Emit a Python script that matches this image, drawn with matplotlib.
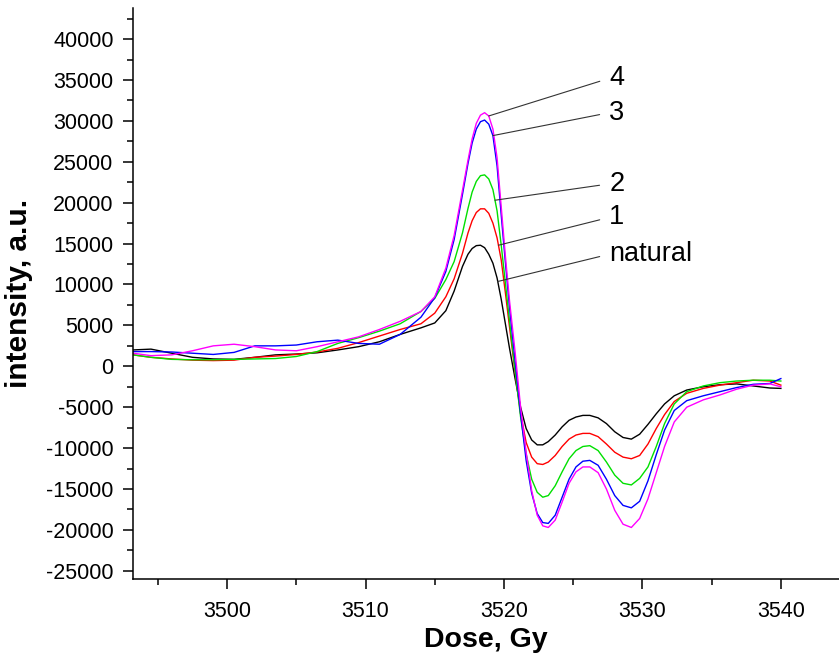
"""
ESR spectra of the natural sample and four irradiated doses
"""
import matplotlib
matplotlib.use('Agg')
import matplotlib.pyplot as plt
from matplotlib.ticker import MultipleLocator
import numpy as np

plt.rcParams['font.family'] = ['Liberation Sans', 'DejaVu Sans']
plt.rcParams['axes.unicode_minus'] = False

# shared field axis
dose = [3493.2, 3494.5, 3496.0, 3497.5, 3499.0, 3500.5, 3502.0, 3503.5, 3505.0, 3506.5,
        3508.0, 3509.5, 3511.0, 3512.5, 3514.0, 3515.0, 3515.8, 3516.4, 3517.0, 3517.4,
        3517.7, 3518.0, 3518.3, 3518.6, 3518.9, 3519.2, 3519.5, 3519.8, 3520.1, 3520.4,
        3520.8, 3521.2, 3521.6, 3522.0, 3522.4, 3522.8, 3523.2, 3523.7, 3524.2, 3524.7,
        3525.2, 3525.7, 3526.2, 3526.8, 3527.4, 3528.0, 3528.6, 3529.2, 3529.8, 3530.4,
        3531.0, 3531.6, 3532.3, 3533.2, 3534.4, 3535.6, 3536.8, 3538.0, 3539.2, 3540.0]

natural = [2000, 2100, 1600, 1100, 900, 850, 1100, 1400, 1500, 1650,
           2000, 2400, 3000, 3900, 4700, 5300, 6800, 9200, 12200, 13700,
           14400, 14750, 14800, 14500, 13700, 12600, 10800, 8200, 5200, 2200,
           -1500, -5000, -7600, -9000, -9600, -9600, -9200, -8400, -7400, -6600,
           -6200, -6000, -6000, -6300, -7000, -8000, -8700, -8900, -8300, -7100,
           -5800, -4600, -3600, -2900, -2500, -2250, -2150, -2400, -2650, -2700]

dose_1 = [1400, 1100, 900, 750, 700, 750, 1100, 1250, 1450, 1750,
          2200, 2900, 3700, 4500, 5200, 6500, 8500, 10700, 13800, 16300,
          17800, 18800, 19250, 19250, 18700, 17500, 15700, 13000, 9000, 4800,
          -700, -5800, -9300, -11100, -11900, -12000, -11700, -10900, -9800, -8900,
          -8400, -8200, -8200, -8600, -9500, -10500, -11100, -11300, -10900, -9500,
          -7600, -5900, -4300, -3300, -2700, -2300, -2000, -1700, -1800, -2300]

dose_2 = [1400, 1100, 850, 800, 800, 850, 900, 950, 1200, 1800,
          2800, 3500, 4300, 5200, 6700, 8300, 10600, 12800, 16300, 19300,
          21300, 22600, 23300, 23400, 22900, 21600, 19000, 14800, 10200, 5500,
          -500, -6200, -10700, -13800, -15400, -16000, -15800, -14600, -12900, -11300,
          -10300, -9800, -9700, -10300, -11700, -13300, -14300, -14500, -13700, -12300,
          -9800, -7000, -4600, -3100, -2400, -2000, -1800, -1700, -1700, -1800]

dose_3 = [1800, 1800, 1750, 1600, 1450, 1700, 2500, 2500, 2600, 3000,
          3200, 2800, 2700, 3900, 6000, 8400, 11600, 15500, 21000, 24800,
          27300, 29000, 29900, 30100, 29600, 28200, 24500, 18500, 12700, 7200,
          700, -5800, -11500, -15500, -18000, -19100, -19200, -18200, -16000, -13800,
          -12300, -11600, -11500, -12100, -13800, -15800, -17000, -17300, -16500, -14000,
          -10800, -7800, -5400, -4200, -3600, -3100, -2600, -2200, -2100, -1500]

dose_4 = [1600, 1300, 1400, 1900, 2500, 2700, 2400, 2000, 1900, 2400,
          3000, 3600, 4500, 5500, 6700, 8500, 12000, 16000, 21500, 25200,
          27800, 29700, 30700, 31000, 30600, 29000, 25500, 19500, 13500, 8000,
          1800, -5000, -10500, -15200, -18200, -19500, -19700, -18800, -16600, -14300,
          -12900, -12300, -12300, -13000, -15000, -17600, -19300, -19700, -18600, -16200,
          -13000, -9800, -6800, -5000, -4100, -3500, -2800, -2300, -2150, -2500]

series = [natural, dose_1, dose_2, dose_3, dose_4]
series_labels = ['natural', '1', '2', '3', '4']
series_colors = ['black', '#ff0000', '#00e000', '#0000ff', '#ff00ff']

# where each label's leader line meets its curve, and the label height
label_tip_x = [3519.55, 3519.6, 3519.35, 3519.2, 3518.9]
label_text_y = [13700, 18200, 22300, 31000, 35200]

fig = plt.figure(figsize=(8.39, 6.65), dpi=100)
ax = fig.add_axes([0.1585, 0.1293, 0.8415, 0.8587])

for values, color in zip(series, series_colors):
    ax.plot(dose, values, color=color, linewidth=1.0)

# leader lines with labels
for values, label, tip_x, text_y in zip(series, series_labels, label_tip_x, label_text_y):
    tip_y = np.interp(tip_x, dose, values)
    ax.annotate(label, xy=(tip_x, tip_y), xytext=(3527.6, text_y),
                fontsize=19.5, ha='left', va='center',
                arrowprops=dict(arrowstyle='-', color='#333333', lw=0.8,
                                relpos=(0, 0.5), shrinkA=5, shrinkB=0))

ax.set_xlim(3493.2, 3544.2)
ax.set_ylim(-26000, 43800)

ax.xaxis.set_major_locator(MultipleLocator(10))
ax.xaxis.set_minor_locator(MultipleLocator(5))
ax.yaxis.set_major_locator(MultipleLocator(5000))
ax.yaxis.set_minor_locator(MultipleLocator(2500))

ax.tick_params(which='major', direction='out', length=7, width=1.1, labelsize=15.5)
ax.tick_params(which='minor', direction='out', length=4, width=1.1)
ax.tick_params(axis='y', which='major', pad=7)
ax.tick_params(axis='x', which='major', pad=9)

ax.spines['top'].set_visible(False)
ax.spines['right'].set_visible(False)
ax.spines['left'].set_linewidth(1.1)
ax.spines['bottom'].set_linewidth(1.1)

ax.set_xlabel('Dose, Gy', fontsize=20.5, fontweight='bold')
ax.set_ylabel('intensity, a.u.', fontsize=21.5, fontweight='bold')
ax.xaxis.set_label_coords(0.5, -0.107)
ax.yaxis.set_label_coords(-0.1615, 0.5)
ax.xaxis.label.set_va('center')
ax.yaxis.label.set_va('center')

fig.savefig('out.png', dpi=100, facecolor='white')
plt.close(fig)
